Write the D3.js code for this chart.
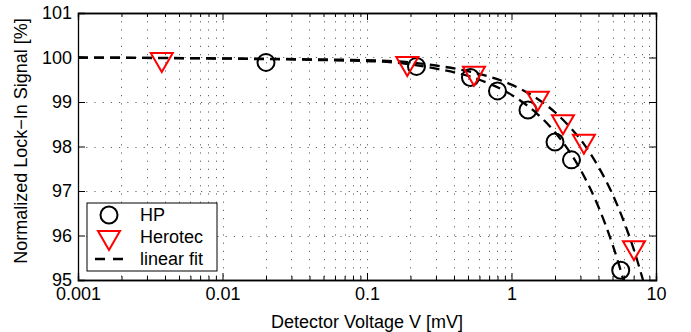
<!DOCTYPE html>
<html>
<head>
<meta charset="utf-8">
<script src="https://cdn.jsdelivr.net/npm/d3@7"></script>
<style>
  body { margin: 0; background: #fff; }
  text { font-family: "Liberation Sans", Arial, sans-serif; fill: #000; }
</style>
</head>
<body>
<svg width="691" height="332"></svg>
<script>
// measured points
var hpV = [0.02, 0.22, 0.52, 0.8, 1.3, 2.0, 2.6, 5.7]
var hpS = [99.89, 99.8, 99.55, 99.25, 98.82, 98.1, 97.7, 95.22]
var heroV = [0.0038, 0.19, 0.55, 1.52, 2.27, 3.17, 7.04]
var heroS = [99.9, 99.81, 99.59, 99.03, 98.5, 98.06, 95.67]

// linear fit lines
var fitHpV = [0.001, 0.1, 0.3, 0.6, 1, 1.5, 2, 2.5, 3, 3.5, 4, 4.5, 5, 5.5, 5.95]
var fitHpS = [100, 99.92, 99.75, 99.5, 99.16, 98.74, 98.32, 97.9, 97.48, 97.06, 96.64, 96.22, 95.8, 95.38, 95.0]
var fitHeroV = [0.001, 0.1, 0.3, 0.6, 1, 1.5, 2, 2.5, 3, 3.5, 4, 5, 6, 7, 8.13]
var fitHeroS = [100, 99.94, 99.82, 99.63, 99.39, 99.08, 98.77, 98.46, 98.16, 97.85, 97.54, 96.93, 96.31, 95.7, 95.0]

var xTicks = [0.001, 0.01, 0.1, 1, 10]
var xTickLabels = ["0.001", "0.01", "0.1", "1", "10"]
var yTicks = [95, 96, 97, 98, 99, 100, 101]

var legendNames = ["HP", "Herotec", "linear fit"]

var margins = {top: 13, right: 35, bottom: 52, left: 78}
var W = 691, H = 332
var width = W - margins.left - margins.right
var height = H - margins.top - margins.bottom
var fontSize = 18

var svg = d3.select("svg")
var g = svg.append("g").attr("transform", "translate(" + margins.left + "," + margins.top + ")")

var xScale = d3.scaleLog().domain([0.001, 10]).range([0, width])
var yScale = d3.scaleLinear().domain([95, 101]).range([height, 0])

// minor ticks for log axis
var minor = []
for (var d = 0.001; d < 10; d *= 10) {
  for (var k = 2; k <= 9; k++) minor.push(+(d * k).toPrecision(3))
}

// grid (MATLAB style dotted)
var grid = g.append("g").attr("stroke", "#000").attr("stroke-width", 1)
  .attr("stroke-dasharray", "1.2,7").attr("opacity", 0.6)
grid.selectAll("line.vx").data(xTicks.concat(minor)).enter().append("line")
  .attr("x1", function(d){ return Math.round(xScale(d)) + 0.5 })
  .attr("x2", function(d){ return Math.round(xScale(d)) + 0.5 })
  .attr("y1", 0).attr("y2", height)
grid.selectAll("line.hy").data(yTicks).enter().append("line")
  .attr("y1", function(d){ return Math.round(yScale(d)) + 0.5 })
  .attr("y2", function(d){ return Math.round(yScale(d)) + 0.5 })
  .attr("x1", 0).attr("x2", width)

// axes with inward ticks
var xAxisB = d3.axisBottom(xScale).tickValues(xTicks).tickSize(-7).tickPadding(10)
  .tickFormat(function(d, i){ return xTickLabels[i] })
g.append("g").attr("transform", "translate(0," + height + ")").call(xAxisB)
  .call(function(s){ s.selectAll("text").attr("font-size", fontSize).attr("dy", "0.55em") })
g.append("g").attr("transform", "translate(0," + height + ")")
  .call(d3.axisBottom(xScale).tickValues(minor).tickSize(-4).tickFormat(""))
g.append("g").call(d3.axisTop(xScale).tickValues(xTicks).tickSize(-7).tickFormat(""))
g.append("g").call(d3.axisTop(xScale).tickValues(minor).tickSize(-4).tickFormat(""))

g.append("g").call(d3.axisLeft(yScale).tickValues(yTicks).tickSize(-7).tickPadding(6).tickFormat(d3.format("d")))
  .call(function(s){ s.selectAll("text").attr("font-size", fontSize) })
g.append("g").attr("transform", "translate(" + width + ",0)")
  .call(d3.axisRight(yScale).tickValues(yTicks).tickSize(-7).tickFormat(""))

g.selectAll(".domain").attr("stroke", "#000").attr("stroke-width", 1.3)
g.selectAll(".tick line").attr("stroke", "#000")

// fit lines
var line = d3.line()
  .x(function(d){ return xScale(d[0]) })
  .y(function(d){ return yScale(d[1]) })
  .curve(d3.curveMonotoneX)

g.append("clipPath").attr("id", "clip").append("rect")
  .attr("width", width).attr("height", height)

var fits = [d3.zip(fitHpV, fitHpS), d3.zip(fitHeroV, fitHeroS)]
g.selectAll("path.fit").data(fits).enter().append("path")
  .attr("class", "fit")
  .attr("clip-path", "url(#clip)")
  .attr("d", line)
  .attr("fill", "none").attr("stroke", "#000").attr("stroke-width", 2.3)
  .attr("stroke-dasharray", "10,6")

// HP circles
g.selectAll("circle.hp").data(d3.zip(hpV, hpS)).enter().append("circle")
  .attr("cx", function(d){ return xScale(d[0]) })
  .attr("cy", function(d){ return yScale(d[1]) })
  .attr("r", 8.5)
  .attr("fill", "none").attr("stroke", "#000").attr("stroke-width", 2)

// Herotec triangles (pointing down)
var tri = function(cx, cy) {
  return "M" + (cx - 11) + "," + (cy - 9) + "L" + (cx + 11) + "," + (cy - 9) + "L" + cx + "," + (cy + 10) + "Z"
}
g.selectAll("path.hero").data(d3.zip(heroV, heroS)).enter().append("path")
  .attr("d", function(d){ return tri(xScale(d[0]), yScale(d[1])) })
  .attr("fill", "none").attr("stroke", "#f00").attr("stroke-width", 2)

// legend
var lg = svg.append("g").attr("transform", "translate(87,203)")
lg.append("rect").attr("width", 130).attr("height", 68)
  .attr("fill", "#fff").attr("stroke", "#000").attr("stroke-width", 1)
lg.append("circle").attr("cx", 22).attr("cy", 12).attr("r", 8.5)
  .attr("fill", "none").attr("stroke", "#000").attr("stroke-width", 2)
lg.append("path").attr("d", tri(22, 37))
  .attr("fill", "none").attr("stroke", "#f00").attr("stroke-width", 2)
lg.append("line").attr("x1", 8).attr("x2", 38).attr("y1", 56).attr("y2", 56)
  .attr("stroke", "#000").attr("stroke-width", 2.3).attr("stroke-dasharray", "10,8")
lg.selectAll("text").data(legendNames).enter().append("text")
  .attr("x", 53).attr("y", function(d, i){ return 12 + i * 22 })
  .attr("dy", "0.35em").attr("font-size", fontSize)
  .text(function(d){ return d })

// axis labels
svg.append("text").attr("x", margins.left + width / 2).attr("y", 328)
  .attr("text-anchor", "middle").attr("font-size", fontSize)
  .text("Detector Voltage V [mV]")
svg.append("text").attr("transform", "translate(21,141) rotate(-90)")
  .attr("text-anchor", "middle").attr("dy", "0.35em").attr("font-size", fontSize)
  .text("Normalized Lock−In Signal [%]")
</script>
</body>
</html>
